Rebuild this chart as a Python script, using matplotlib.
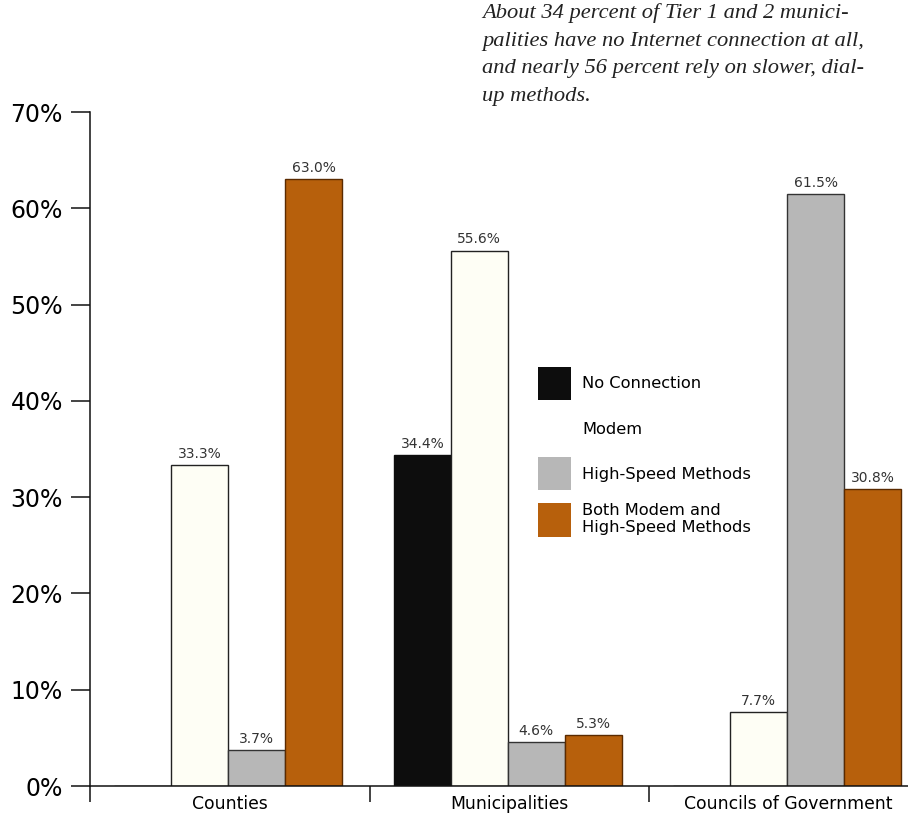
import matplotlib.pyplot as plt
from matplotlib.patches import Patch
import numpy as np

# data
categories = ["Counties", "Municipalities", "Councils of Government"]
series = ["No Connection", "Modem", "High-Speed Methods",
          "Both Modem and\nHigh-Speed Methods"]
no_connection = [0.0, 34.4, 0.0]
modem = [33.3, 55.6, 7.7]
high_speed = [3.7, 4.6, 61.5]
both = [63.0, 5.3, 30.8]
yticks = [0, 10, 20, 30, 40, 50, 60, 70]
note = ("About 34 percent of Tier 1 and 2 munici-\n"
        "palities have no Internet connection at all,\n"
        "and nearly 56 percent rely on slower, dial-\n"
        "up methods.")

colors = ["#0d0d0d", "#fefef5", "#b7b7b7", "#b7600c"]
edges = ["#0d0d0d", "#222222", "#333333", "#5a2a00"]

plt.rcParams['font.family'] = ['DejaVu Sans']

fig = plt.figure(figsize=(9.08, 8.15), dpi=100)
ax = fig.add_axes([90/908, 1 - 786/815, 818/908, (786 - 112)/815])

x = np.arange(len(categories))
width = 0.204
values = [no_connection, modem, high_speed, both]

for i, vals in enumerate(values):
    bars = ax.bar(x + (i - 1.5)*width - 0.005, vals, width, color=colors[i],
                  edgecolor=edges[i], linewidth=1.0)
    labels = ["%.1f%%" % v if v > 0 else "" for v in vals]
    ax.bar_label(bars, labels=labels, padding=3, fontsize=10, color="#333333")

# y axis
ax.set_yticks(yticks)
ax.set_yticklabels(["%d%%" % t for t in yticks])
ax.tick_params(axis='y', direction='out', length=13.7, width=1.1,
               pad=5.8, labelsize=17, color="#111111")

# x axis: separators as major ticks, category names as minor ticks
ax.set_xticks([-0.5, 0.5, 1.5, 2.5])
ax.set_xticklabels([])
ax.set_xticks(x, minor=True)
ax.set_xticklabels(categories, minor=True)
ax.tick_params(axis='x', which='major', direction='out', length=11.5,
               width=1.1, color="#111111")
ax.tick_params(axis='x', which='minor', length=0, pad=6.5, labelsize=12.4)

ax.set_xlim(-0.5, -0.5 + 818/279.5)
ax.set_ylim(0, 70)

for s in ['top', 'right']:
    ax.spines[s].set_visible(False)
for s in ['left', 'bottom']:
    ax.spines[s].set_linewidth(1.1)
    ax.spines[s].set_color("#111111")

# legend
handles = [Patch(facecolor=c, edgecolor='none') for c in colors]
handles[1] = Patch(facecolor='none', edgecolor='none')
fig.legend(handles, series, loc='upper left',
           bbox_to_anchor=(538/908, 1 - 367/815), bbox_transform=fig.transFigure,
           frameon=False, fontsize=11.7, handlelength=2.03, handleheight=2.75,
           handletextpad=0.7, labelspacing=0.75, borderpad=0, borderaxespad=0)

# note at top
fig.text(482/908, 1 - 3/815, note, ha='left', va='top', fontsize=16.2,
         family='Liberation Serif', style='italic', linespacing=1.62,
         color="#222222")

fig.savefig("out.png", dpi=100)
